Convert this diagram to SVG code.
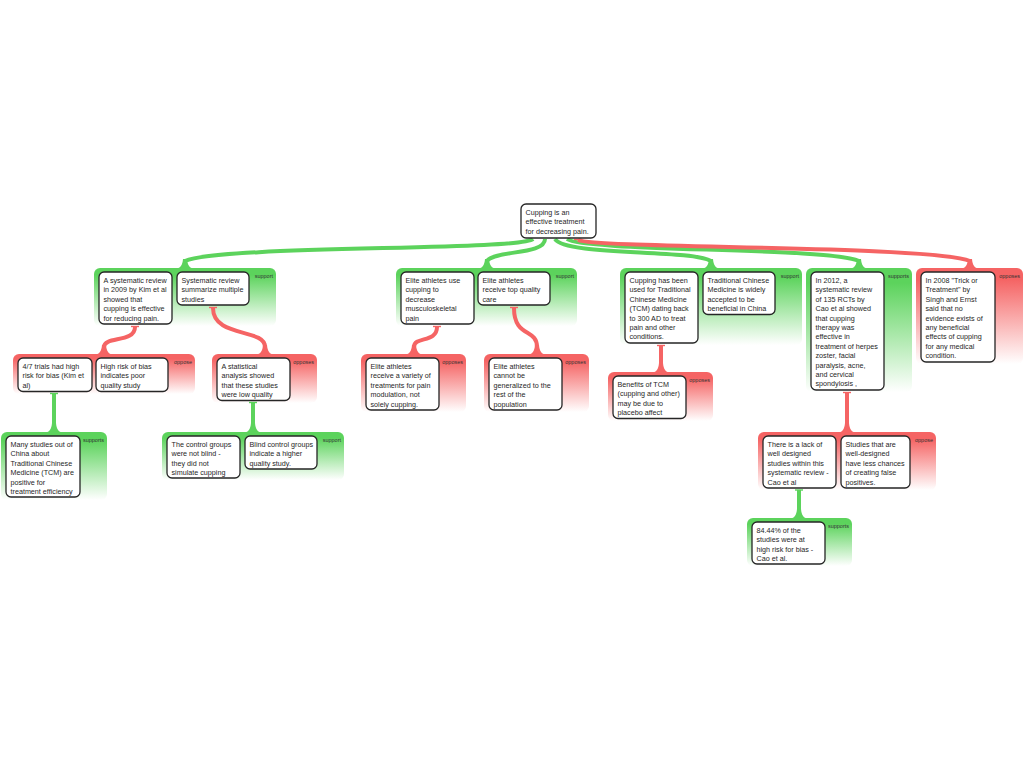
<svg xmlns="http://www.w3.org/2000/svg" xmlns:xlink="http://www.w3.org/1999/xlink" width="1024" height="768" viewBox="0 0 1024 768">
<defs>
<linearGradient id="gG" x1="0" y1="0" x2="0" y2="1">
<stop offset="0" stop-color="#5cd35c"/><stop offset="0.12" stop-color="#5cd35c"/><stop offset="1" stop-color="#ffffff"/>
</linearGradient>
<linearGradient id="gR" x1="0" y1="0" x2="0" y2="1">
<stop offset="0" stop-color="#f56464"/><stop offset="0.12" stop-color="#f56464"/><stop offset="1" stop-color="#ffffff"/>
</linearGradient>
<path id="flare" d="M-12,1 C-4,1 -2.6,-3 -2,-9 L2,-9 C2.6,-3 4,1 12,1 Z"/>
<style>
.gs{fill:url(#gG)}
.go{fill:url(#gR)}
.n{fill:#fff;stroke:#262626;stroke-width:1.3}
.t{font-family:"Liberation Sans",Arial,sans-serif;font-size:7.2px;fill:#262626}
.lbl{font-family:"Liberation Sans",Arial,sans-serif;font-size:5.5px;fill:#333;text-anchor:end}
.cs{stroke:#5cd35c;stroke-width:4;fill:none}
.co{stroke:#f56464;stroke-width:4;fill:none}
.fs{fill:#5cd35c}
.fo{fill:#f56464}
.ks{stroke:#5cd35c;stroke-width:1.4}
.ko{stroke:#f56464;stroke-width:1.4}
</style>
</defs>
<rect width="1024" height="768" fill="#fff"/>

<!-- containers -->
<g id="grp1"><rect class="gs" x="94" y="268" width="182" height="58" rx="6"/><text class="lbl" x="273" y="278">support</text></g>
<g id="grp2"><rect class="gs" x="396" y="268" width="181" height="58" rx="6"/><text class="lbl" x="574" y="278">support</text></g>
<g id="grp3"><rect class="gs" x="620" y="268" width="182" height="77" rx="6"/><text class="lbl" x="799" y="278">support</text></g>
<g id="grp4"><rect class="gs" x="806" y="268" width="106" height="124" rx="6"/><text class="lbl" x="909" y="278">supports</text></g>
<g id="grp5"><rect class="go" x="916" y="268" width="107" height="96" rx="6"/><text class="lbl" x="1020" y="278">opposes</text></g>
<g id="grp6"><rect class="go" x="13" y="354" width="182" height="40" rx="6"/><text class="lbl" x="192" y="364">oppose</text></g>
<g id="grp7"><rect class="go" x="212" y="354" width="105" height="49" rx="6"/><text class="lbl" x="314" y="364">opposes</text></g>
<g id="grp8"><rect class="go" x="361" y="354" width="105" height="58" rx="6"/><text class="lbl" x="463" y="364">opposes</text></g>
<g id="grp9"><rect class="go" x="484" y="354" width="105" height="58" rx="6"/><text class="lbl" x="586" y="364">opposes</text></g>
<g id="grp10"><rect class="go" x="608" y="372" width="105" height="49" rx="6"/><text class="lbl" x="710" y="382">opposes</text></g>
<g id="grp11"><rect class="gs" x="1" y="432" width="106" height="68" rx="6"/><text class="lbl" x="104" y="442">supports</text></g>
<g id="grp12"><rect class="gs" x="162" y="432" width="182" height="48" rx="6"/><text class="lbl" x="341" y="442">support</text></g>
<g id="grp13"><rect class="go" x="758" y="432" width="178" height="58" rx="6"/><text class="lbl" x="933" y="442">oppose</text></g>
<g id="grp14"><rect class="gs" x="747" y="518" width="105" height="48" rx="6"/><text class="lbl" x="849" y="528">supports</text></g>

<!-- connectors -->
<g id="connectors">
<path class="cs" d="M533,239 C520,251 220,245 185,261"/>
<path class="cs" d="M545,239 C545,255 495,250 487,261"/>
<path class="cs" d="M555,239 C565,256 690,249 711,261"/>
<path class="cs" d="M567,239 C585,252 830,247 859,261"/>
<path class="co" d="M578,240 C600,249 930,245 970,261"/>
<line class="ko" x1="574" y1="239.5" x2="582" y2="239.5"/>
<use xlink:href="#flare" x="185" y="268" class="fs"/>
<use xlink:href="#flare" x="487" y="268" class="fs"/>
<use xlink:href="#flare" x="711" y="268" class="fs"/>
<use xlink:href="#flare" x="859" y="268" class="fs"/>
<use xlink:href="#flare" x="970" y="268" class="fo"/>

<path class="co" d="M135,327 C135,343 104,336 104,347"/>
<line class="ko" x1="131" y1="326.5" x2="139" y2="326.5"/>
<use xlink:href="#flare" x="104" y="354" class="fo"/>
<path class="co" d="M213,308 C213,338 265,328 265,347"/>
<line class="ko" x1="209" y1="307.5" x2="217" y2="307.5"/>
<use xlink:href="#flare" x="265" y="354" class="fo"/>
<path class="co" d="M437,327 C437,343 414,336 414,347"/>
<line class="ko" x1="433" y1="326.5" x2="441" y2="326.5"/>
<use xlink:href="#flare" x="414" y="354" class="fo"/>
<path class="co" d="M514,308 C514,338 537,328 537,347"/>
<line class="ko" x1="510" y1="307.5" x2="518" y2="307.5"/>
<use xlink:href="#flare" x="537" y="354" class="fo"/>
<path class="co" d="M661,346 L661,365"/>
<line class="ko" x1="657" y1="345.5" x2="665" y2="345.5"/>
<use xlink:href="#flare" x="661" y="372" class="fo"/>
<path class="co" d="M847,393 L847,425"/>
<line class="ko" x1="843" y1="392.5" x2="851" y2="392.5"/>
<use xlink:href="#flare" x="847" y="432" class="fo"/>

<path class="cs" d="M54,394 L54,425"/>
<line class="ks" x1="50" y1="393.5" x2="58" y2="393.5"/>
<use xlink:href="#flare" x="54" y="432" class="fs"/>
<path class="cs" d="M253,403 L253,425"/>
<line class="ks" x1="249" y1="402.5" x2="257" y2="402.5"/>
<use xlink:href="#flare" x="253" y="432" class="fs"/>
<path class="cs" d="M799,490 L799,511"/>
<line class="ks" x1="795" y1="490" x2="803" y2="490"/>
<use xlink:href="#flare" x="799" y="518" class="fs"/>
</g>

<!-- nodes -->
<g id="root"><rect class="n" x="521" y="204" width="75" height="34" rx="5"/>
<text class="t" x="525.5" y="215"><tspan x="525.5">Cupping is an</tspan><tspan x="525.5" dy="9.4">effective treatment</tspan><tspan x="525.5" dy="9.4">for decreasing pain.</tspan></text></g>

<g id="nA"><rect class="n" x="99" y="272" width="73" height="52" rx="5"/>
<text class="t" x="103.5" y="283"><tspan x="103.5">A systematic review</tspan><tspan x="103.5" dy="9.4">in 2009 by Kim et al</tspan><tspan x="103.5" dy="9.4">showed that</tspan><tspan x="103.5" dy="9.4">cupping is effective</tspan><tspan x="103.5" dy="9.4">for reducing pain.</tspan></text></g>

<g id="nB"><rect class="n" x="177" y="272" width="72" height="33" rx="5"/>
<text class="t" x="181.5" y="283"><tspan x="181.5">Systematic review</tspan><tspan x="181.5" dy="9.4">summarize multiple</tspan><tspan x="181.5" dy="9.4">studies</tspan></text></g>

<g id="nC"><rect class="n" x="401" y="272" width="73" height="52" rx="5"/>
<text class="t" x="405.5" y="283"><tspan x="405.5">Elite athletes use</tspan><tspan x="405.5" dy="9.4">cupping to</tspan><tspan x="405.5" dy="9.4">decrease</tspan><tspan x="405.5" dy="9.4">musculoskeletal</tspan><tspan x="405.5" dy="9.4">pain</tspan></text></g>

<g id="nD"><rect class="n" x="478" y="272" width="72" height="33" rx="5"/>
<text class="t" x="482.5" y="283"><tspan x="482.5">Elite athletes</tspan><tspan x="482.5" dy="9.4">receive top quality</tspan><tspan x="482.5" dy="9.4">care</tspan></text></g>

<g id="nE"><rect class="n" x="625" y="272" width="73" height="71" rx="5"/>
<text class="t" x="629.5" y="283"><tspan x="629.5">Cupping has been</tspan><tspan x="629.5" dy="9.4">used for Traditional</tspan><tspan x="629.5" dy="9.4">Chinese Medicine</tspan><tspan x="629.5" dy="9.4">(TCM) dating back</tspan><tspan x="629.5" dy="9.4">to 300 AD to treat</tspan><tspan x="629.5" dy="9.4">pain and other</tspan><tspan x="629.5" dy="9.4">conditions.</tspan></text></g>

<g id="nF"><rect class="n" x="703" y="272" width="72" height="42.5" rx="5"/>
<text class="t" x="707.5" y="283"><tspan x="707.5">Traditional Chinese</tspan><tspan x="707.5" dy="9.4">Medicine is widely</tspan><tspan x="707.5" dy="9.4">accepted to be</tspan><tspan x="707.5" dy="9.4">beneficial in China</tspan></text></g>

<g id="nG"><rect class="n" x="811" y="272" width="73" height="118" rx="5"/>
<text class="t" x="815.5" y="283"><tspan x="815.5">In 2012, a</tspan><tspan x="815.5" dy="9.4">systematic review</tspan><tspan x="815.5" dy="9.4">of 135 RCTs by</tspan><tspan x="815.5" dy="9.4">Cao et al showed</tspan><tspan x="815.5" dy="9.4">that cupping</tspan><tspan x="815.5" dy="9.4">therapy was</tspan><tspan x="815.5" dy="9.4">effective in</tspan><tspan x="815.5" dy="9.4">treatment of herpes</tspan><tspan x="815.5" dy="9.4">zoster, facial</tspan><tspan x="815.5" dy="9.4">paralysis, acne,</tspan><tspan x="815.5" dy="9.4">and cervical</tspan><tspan x="815.5" dy="9.4">spondylosis ,</tspan></text></g>

<g id="nH"><rect class="n" x="921" y="272" width="74" height="90" rx="5"/>
<text class="t" x="925.5" y="283"><tspan x="925.5">In 2008 "Trick or</tspan><tspan x="925.5" dy="9.4">Treatment" by</tspan><tspan x="925.5" dy="9.4">Singh and Ernst</tspan><tspan x="925.5" dy="9.4">said that no</tspan><tspan x="925.5" dy="9.4">evidence exists of</tspan><tspan x="925.5" dy="9.4">any beneficial</tspan><tspan x="925.5" dy="9.4">effects of cupping</tspan><tspan x="925.5" dy="9.4">for any medical</tspan><tspan x="925.5" dy="9.4">condition.</tspan></text></g>

<g id="nI"><rect class="n" x="18" y="358" width="74" height="33.5" rx="5"/>
<text class="t" x="22.5" y="369"><tspan x="22.5">4/7 trials had high</tspan><tspan x="22.5" dy="9.4">risk for bias (Kim et</tspan><tspan x="22.5" dy="9.4">al)</tspan></text></g>

<g id="nJ"><rect class="n" x="96" y="358" width="72" height="33.5" rx="5"/>
<text class="t" x="100.5" y="369"><tspan x="100.5">High risk of bias</tspan><tspan x="100.5" dy="9.4">indicates poor</tspan><tspan x="100.5" dy="9.4">quality study</tspan></text></g>

<g id="nK"><rect class="n" x="217" y="358" width="73" height="42.5" rx="5"/>
<text class="t" x="221.5" y="369"><tspan x="221.5">A statistical</tspan><tspan x="221.5" dy="9.4">analysis showed</tspan><tspan x="221.5" dy="9.4">that these studies</tspan><tspan x="221.5" dy="9.4">were low quality</tspan></text></g>

<g id="nL"><rect class="n" x="366" y="358" width="73" height="52" rx="5"/>
<text class="t" x="370.5" y="369"><tspan x="370.5">Elite athletes</tspan><tspan x="370.5" dy="9.4">receive a variety of</tspan><tspan x="370.5" dy="9.4">treatments for pain</tspan><tspan x="370.5" dy="9.4">modulation, not</tspan><tspan x="370.5" dy="9.4">solely cupping.</tspan></text></g>

<g id="nM"><rect class="n" x="489" y="358" width="73" height="52" rx="5"/>
<text class="t" x="493.5" y="369"><tspan x="493.5">Elite athletes</tspan><tspan x="493.5" dy="9.4">cannot be</tspan><tspan x="493.5" dy="9.4">generalized to the</tspan><tspan x="493.5" dy="9.4">rest of the</tspan><tspan x="493.5" dy="9.4">population</tspan></text></g>

<g id="nN"><rect class="n" x="613" y="376" width="73" height="42.5" rx="5"/>
<text class="t" x="617.5" y="387"><tspan x="617.5">Benefits of TCM</tspan><tspan x="617.5" dy="9.4">(cupping and other)</tspan><tspan x="617.5" dy="9.4">may be due to</tspan><tspan x="617.5" dy="9.4">placebo affect</tspan></text></g>

<g id="nO"><rect class="n" x="6" y="436" width="74" height="61" rx="5"/>
<text class="t" x="10.5" y="447"><tspan x="10.5">Many studies out of</tspan><tspan x="10.5" dy="9.4">China about</tspan><tspan x="10.5" dy="9.4">Traditional Chinese</tspan><tspan x="10.5" dy="9.4">Medicine (TCM) are</tspan><tspan x="10.5" dy="9.4">positive for</tspan><tspan x="10.5" dy="9.4">treatment efficiency</tspan></text></g>

<g id="nP"><rect class="n" x="167" y="436" width="73" height="42" rx="5"/>
<text class="t" x="171.5" y="447"><tspan x="171.5">The control groups</tspan><tspan x="171.5" dy="9.4">were not blind -</tspan><tspan x="171.5" dy="9.4">they did not</tspan><tspan x="171.5" dy="9.4">simulate cupping</tspan></text></g>

<g id="nQ"><rect class="n" x="245" y="436" width="72" height="33" rx="5"/>
<text class="t" x="249.5" y="447"><tspan x="249.5">Blind control groups</tspan><tspan x="249.5" dy="9.4">indicate a higher</tspan><tspan x="249.5" dy="9.4">quality study.</tspan></text></g>

<g id="nR"><rect class="n" x="763" y="436" width="73" height="52" rx="5"/>
<text class="t" x="767.5" y="447"><tspan x="767.5">There is a lack of</tspan><tspan x="767.5" dy="9.4">well designed</tspan><tspan x="767.5" dy="9.4">studies within this</tspan><tspan x="767.5" dy="9.4">systematic review -</tspan><tspan x="767.5" dy="9.4">Cao et al</tspan></text></g>

<g id="nS"><rect class="n" x="841" y="436" width="69" height="52" rx="5"/>
<text class="t" x="845.5" y="447"><tspan x="845.5">Studies that are</tspan><tspan x="845.5" dy="9.4">well-designed</tspan><tspan x="845.5" dy="9.4">have less chances</tspan><tspan x="845.5" dy="9.4">of creating false</tspan><tspan x="845.5" dy="9.4">positives.</tspan></text></g>

<g id="nT"><rect class="n" x="752" y="522" width="73" height="42" rx="5"/>
<text class="t" x="756.5" y="533"><tspan x="756.5">84.44% of the</tspan><tspan x="756.5" dy="9.4">studies were at</tspan><tspan x="756.5" dy="9.4">high risk for bias -</tspan><tspan x="756.5" dy="9.4">Cao et al.</tspan></text></g>
</svg>
